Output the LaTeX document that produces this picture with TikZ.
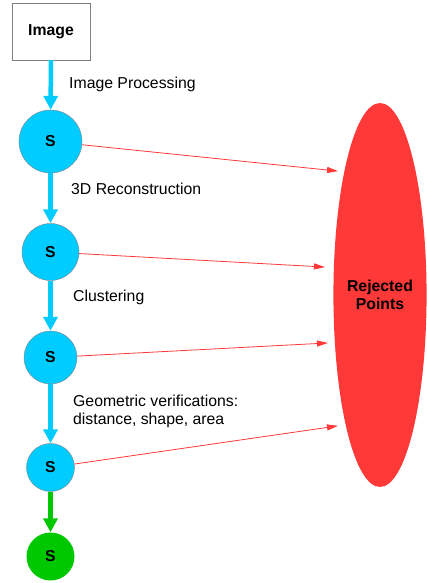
\documentclass[tikz,border=0pt]{standalone}
\usepackage{fontspec}
\setmainfont{Liberation Sans}
\usetikzlibrary{shapes,arrows,positioning,calc,arrows.meta}
\definecolor{stagecyan}{RGB}{0,204,255}
\definecolor{finalgreen}{RGB}{0,200,0}
\definecolor{rejectred}{RGB}{255,56,56}
\newcommand{\diagfont}{\fontsize{15.8}{18}\selectfont}
\tikzset{
    stage/.style={circle, draw=gray, fill=stagecyan, inner sep=0pt, font=\diagfont\bfseries},
    flow/.style={line width=4.5pt, stagecyan, -{Triangle[width=14pt,length=14pt]}},
    miss/.style={line width=0.8pt, rejectred, -{Triangle[width=6pt,length=11pt]}, shorten >=-1pt},
    steptext/.style={anchor=west, inner sep=0pt, align=left}
}

\begin{document}
\begin{tikzpicture}[x=1pt,y=-1pt,font=\diagfont]
    \useasboundingbox (0,0) rectangle (426,583);
    \node[draw=gray, fill=white, minimum width=78, minimum height=57, font=\diagfont\bfseries] (img) at (51,31.5) {Image};
    \foreach \n/\y/\r in {1/141.5/31.5, 2/252/28.5, 3/357.5/26.5, 4/467.5/24} {
        \node[stage, minimum size=2*\r] (s\n) at (50.5,\y) {S};
    }
    \node[stage, draw=none, fill=finalgreen, minimum size=48] (s5) at (50.5,556.5) {S};

    \node[ellipse, fill=rejectred, inner sep=0pt, minimum width=92, minimum height=384, align=center, font=\diagfont\bfseries] (rej) at (380,295) {Rejected\\Points};

    % pipeline steps
    \foreach \a/\b in {img/s1, s1/s2, s2/s3, s3/s4} {
        \draw[flow] (\a) -- (\b);
    }
    \draw[flow, finalgreen] (s4) -- (s5);

    \node[steptext] (t1) at (69,84) {Image Processing};
    \node[steptext] (t2) at (71,189) {3D Reconstruction};
    \node[steptext] (t3) at (73,297) {Clustering};
    \node[steptext] (t4) at (73,411.5) {Geometric verifications:\\distance, shape, area};

    % rejected points
    \foreach \i/\x/\y in {1/337/171, 2/324/267, 3/327/343, 4/337/426} {
        \coordinate (r\i) at (\x,\y);
        \draw[miss] (s\i) -- (r\i);
    }
\end{tikzpicture}
\end{document}
